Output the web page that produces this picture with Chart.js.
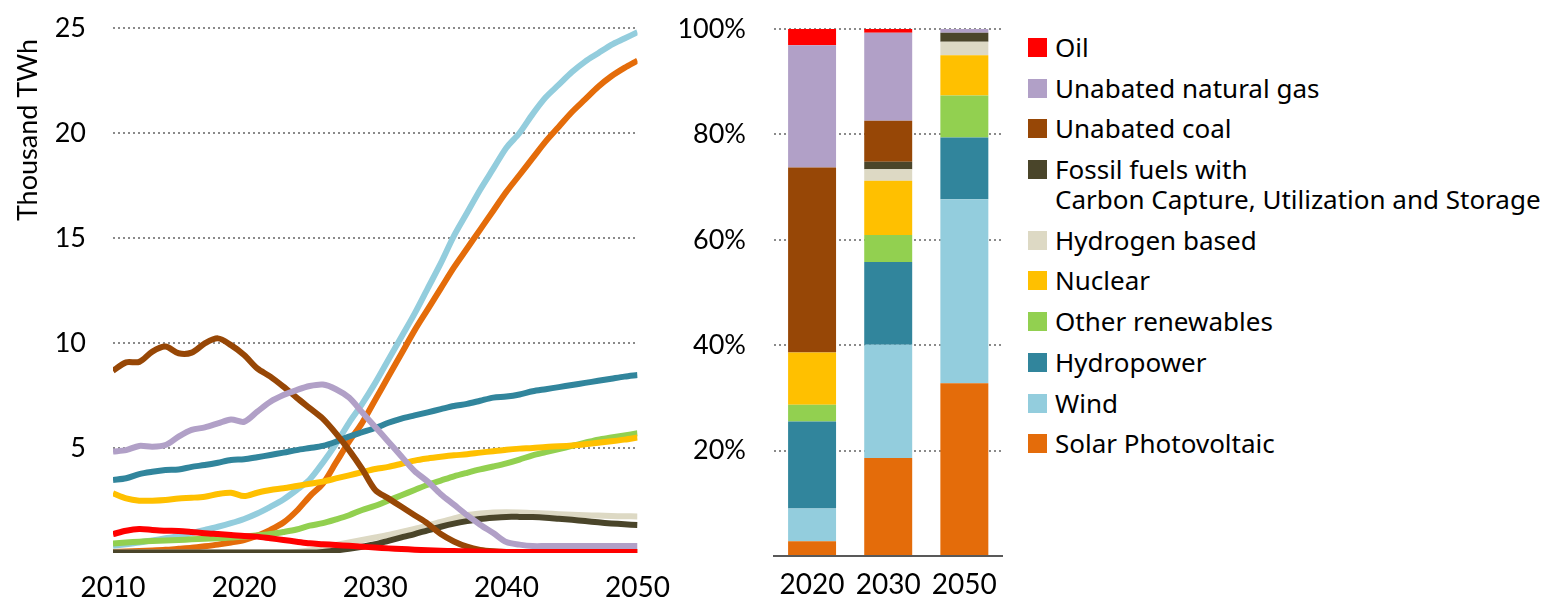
<!DOCTYPE html>
<html>
<head>
<meta charset="utf-8">
<script src="https://cdn.jsdelivr.net/npm/chart.js@4.4.1/dist/chart.umd.min.js"></script>
<style>
  html, body { margin: 0; padding: 0; background: #fff; }
  #wrap { position: relative; width: 1553px; height: 602px; overflow: hidden; }
  #lineBox { position: absolute; left: 0; top: 0; width: 680px; height: 602px; }
  #barBox { position: absolute; left: 680px; top: 0; width: 330px; height: 602px; }
  canvas { display: block; }
  #legend { position: absolute; left: 1028px; top: 32px; font-family: "Noto Sans", sans-serif; font-size: 26px; color: #000; }
  .item { display: flex; align-items: flex-start; margin-bottom: 10.7px; line-height: 30px; }
  .sw { width: 19px; height: 19px; margin-top: 6px; margin-right: 8px; flex: none; }
</style>
</head>
<body>
<div id="wrap">
  <div id="lineBox"><canvas id="lineChart" width="680" height="602"></canvas></div>
  <div id="barBox"><canvas id="barChart" width="330" height="602"></canvas></div>
  <div id="legend"></div>
</div>
<script>
// ---- data ----
const years = [2010, 2011, 2012, 2013, 2014, 2015, 2016, 2017, 2018, 2019, 2020, 2021, 2022, 2023, 2024, 2025,
  2026, 2027, 2028, 2029, 2030, 2031, 2032, 2033, 2034, 2035, 2036, 2037, 2038, 2039, 2040,
  2041, 2042, 2043, 2044, 2045, 2046, 2047, 2048, 2049, 2050];

const oil = [0.9, 1.06, 1.14, 1.1, 1.06, 1.05, 1.0, 0.94, 0.9, 0.86, 0.81, 0.78, 0.7, 0.62, 0.54, 0.46,
  0.42, 0.38, 0.34, 0.3, 0.26, 0.22, 0.19, 0.16, 0.13, 0.11, 0.09, 0.08, 0.07, 0.06,
  0.05, 0.05, 0.05, 0.05, 0.05, 0.05, 0.05, 0.05, 0.05, 0.05, 0.05];
const gas = [4.83, 4.9, 5.1, 5.06, 5.14, 5.54, 5.86, 5.98, 6.17, 6.36, 6.25, 6.73, 7.2, 7.52, 7.76, 7.95,
  8.02, 7.8, 7.4, 6.7, 6.0, 5.3, 4.6, 3.9, 3.4, 2.8, 2.3, 1.8, 1.35, 0.95, 0.52, 0.4,
  0.33, 0.33, 0.33, 0.33, 0.33, 0.33, 0.33, 0.33, 0.33];
const coal = [8.68, 9.08, 9.1, 9.59, 9.83, 9.51, 9.54, 9.98, 10.22, 9.9, 9.43, 8.79, 8.4, 7.92, 7.4, 6.9,
  6.4, 5.7, 4.9, 4.0, 3.0, 2.6, 2.2, 1.8, 1.4, 0.9, 0.55, 0.3, 0.15, 0.08, 0.05,
  0.05, 0.05, 0.05, 0.05, 0.05, 0.05, 0.05, 0.05, 0.05, 0.05];
const ccus = [0.02, 0.02, 0.02, 0.02, 0.02, 0.02, 0.02, 0.02, 0.02, 0.02, 0.02, 0.02, 0.02, 0.02, 0.02, 0.02,
  0.05, 0.12, 0.2, 0.3, 0.42, 0.58, 0.74, 0.9, 1.08, 1.25, 1.4, 1.52, 1.62, 1.68, 1.72,
  1.72, 1.71, 1.68, 1.63, 1.58, 1.52, 1.46, 1.41, 1.37, 1.33];
const hydrogen = [0.02, 0.02, 0.02, 0.02, 0.02, 0.02, 0.02, 0.02, 0.02, 0.02, 0.02, 0.02, 0.02, 0.02,
  0.05, 0.12, 0.25, 0.38, 0.5, 0.62, 0.74, 0.86, 1.0, 1.15, 1.3, 1.48, 1.65, 1.8, 1.88, 1.93, 1.94,
  1.93, 1.9, 1.88, 1.85, 1.82, 1.8, 1.78, 1.76, 1.75, 1.74];
const nuclear = [2.84, 2.6, 2.49, 2.49, 2.52, 2.6, 2.63, 2.68, 2.81, 2.87, 2.71, 2.87, 3.0, 3.08, 3.19, 3.3,
  3.4, 3.55, 3.7, 3.85, 4.0, 4.1, 4.25, 4.4, 4.5, 4.58, 4.65, 4.7, 4.78, 4.85, 4.92,
  4.97, 5.0, 5.05, 5.08, 5.12, 5.18, 5.25, 5.32, 5.4, 5.5];
const otherRen = [0.45, 0.5, 0.54, 0.57, 0.6, 0.62, 0.65, 0.68, 0.7, 0.74, 0.78, 0.84, 0.9, 1.0, 1.12,
  1.3, 1.42, 1.6, 1.8, 2.05, 2.25, 2.5, 2.75, 3.0, 3.25, 3.45, 3.65, 3.82, 3.98, 4.12, 4.27,
  4.45, 4.65, 4.8, 4.95, 5.1, 5.25, 5.4, 5.5, 5.6, 5.7];
const hydro = [3.48, 3.56, 3.76, 3.87, 3.95, 3.98, 4.1, 4.19, 4.3, 4.43, 4.46, 4.56, 4.67, 4.78, 4.9, 5.0,
  5.1, 5.3, 5.55, 5.75, 5.95, 6.2, 6.4, 6.55, 6.7, 6.85, 7.0, 7.1, 7.25, 7.4, 7.45,
  7.55, 7.7, 7.8, 7.9, 8.0, 8.1, 8.2, 8.3, 8.4, 8.48];
const wind = [0.35, 0.42, 0.5, 0.6, 0.7, 0.8, 0.95, 1.1, 1.25, 1.42, 1.62, 1.88, 2.2, 2.55, 3.0,
  3.5, 4.3, 5.2, 6.2, 7.1, 8.1, 9.2, 10.3, 11.4, 12.6, 13.8, 15.1, 16.2, 17.3, 18.3, 19.3,
  20.0, 20.9, 21.7, 22.3, 22.9, 23.4, 23.8, 24.2, 24.5, 24.8];
const solar = [0.05, 0.07, 0.1, 0.12, 0.15, 0.2, 0.25, 0.32, 0.4, 0.5, 0.62, 0.82, 1.1, 1.45, 2.0,
  2.7, 3.3, 4.3, 5.3, 6.2, 7.3, 8.4, 9.5, 10.6, 11.6, 12.6, 13.6, 14.5, 15.4, 16.3, 17.2,
  18.0, 18.8, 19.6, 20.3, 21.0, 21.6, 22.2, 22.7, 23.1, 23.45];

// share of generation, % (bars 2020, 2030, 2050)
const barYears = ['2020', '2030', '2050'];
const shareSolar = [2.8, 18.6, 32.8];
const shareWind = [6.2, 21.5, 34.9];
const shareHydro = [16.5, 15.7, 11.7];
const shareOther = [3.2, 5.1, 8.0];
const shareNuclear = [9.9, 10.3, 7.6];
const shareHydrogen = [0, 2.2, 2.6];
const shareCcus = [0, 1.4, 1.7];
const shareCoal = [35.1, 7.8, 0];
const shareGas = [23.2, 16.7, 0.7];
const shareOil = [3.1, 0.7, 0];

const yTitle = 'Thousand TWh';

// legend order (top to bottom)
const legendNames = ['Oil', 'Unabated natural gas', 'Unabated coal',
  'Fossil fuels with\nCarbon Capture, Utilization and Storage', 'Hydrogen based', 'Nuclear',
  'Other renewables', 'Hydropower', 'Wind', 'Solar Photovoltaic'];
const colors = ['#FF0000', '#B1A0C7', '#974706', '#4A452A', '#DDD9C4', '#FFC000',
  '#92D050', '#31859C', '#93CDDD', '#E46C0A'];

// ---- line chart ----
const lineSeries = [oil, gas, coal, ccus, hydrogen, nuclear, otherRen, hydro, wind, solar];
const axisFont = 'Lato';
const gridGrey = '#8a8a8a';

const yTitlePlugin = {
  id: 'yTitle',
  afterDraw: (chart) => {
    const { ctx } = chart;
    ctx.save();
    ctx.translate(28, 130);
    ctx.rotate(-Math.PI / 2);
    ctx.font = '27px Lato';
    ctx.fillStyle = '#000';
    ctx.textAlign = 'center';
    ctx.textBaseline = 'middle';
    ctx.fillText(yTitle, 0, 0);
    ctx.restore();
  }
};

new Chart(document.getElementById('lineChart'), {
  type: 'line',
  data: {
    datasets: lineSeries.map((s, i) => ({
      label: legendNames[i],
      data: s.map((v, j) => ({ x: years[j], y: v })),
      borderColor: colors[i],
      borderWidth: 6,
      pointRadius: 0,
      pointHoverRadius: 0,
      tension: 0.3,
      fill: false
    }))
  },
  options: {
    responsive: false, animation: false,
    layout: { autoPadding: false, padding: { top: 28, right: 34, left: 0, bottom: 0 } },
    scales: {
      x: {
        type: 'linear', min: 2010, max: 2050,
        grid: { display: false },
        border: { display: false },
        ticks: { stepSize: 10, padding: 10, color: '#000', font: { family: axisFont, size: 28 },
          callback: (v) => String(v) },
        afterFit: (s) => { s.height = 49; }
      },
      y: {
        min: 0, max: 25,
        border: { display: false, dash: [2, 3] },
        grid: { drawTicks: false, lineWidth: 2,
          color: (c) => c.tick && c.tick.value === 0 ? 'rgba(0,0,0,0)' : gridGrey },
        ticks: { stepSize: 5, padding: 27, color: '#000', font: { family: axisFont, size: 27 },
          callback: (v) => v === 0 ? '' : v },
        afterFit: (s) => { s.width = 113; s.paddingTop = 0; s.paddingBottom = 0; }
      }
    },
    plugins: { legend: { display: false }, tooltip: { enabled: false } }
  },
  plugins: [yTitlePlugin]
});

// ---- stacked share bars ----
const barSeries = [shareSolar, shareWind, shareHydro, shareOther, shareNuclear,
  shareHydrogen, shareCcus, shareCoal, shareGas, shareOil];
const barColors = colors.slice().reverse();
const barNames = legendNames.slice().reverse();

new Chart(document.getElementById('barChart'), {
  type: 'bar',
  data: {
    labels: barYears,
    datasets: barSeries.map((s, i) => ({
      label: barNames[i],
      data: s,
      backgroundColor: barColors[i],
      borderWidth: 0,
      barPercentage: 0.63,
      categoryPercentage: 1.0
    }))
  },
  options: {
    responsive: false, animation: false,
    layout: { autoPadding: false, padding: { top: 29, right: 7, left: 0, bottom: 0 } },
    scales: {
      x: {
        stacked: true,
        grid: { display: false, drawTicks: false },
        border: { display: true, color: '#595959', width: 2 },
        ticks: { padding: 12, color: '#000', font: { family: axisFont, size: 28 } },
        afterFit: (s) => { s.height = 46; }
      },
      y: {
        stacked: true, min: 0, max: 100,
        border: { display: false, dash: [2, 3] },
        grid: { drawTicks: false, lineWidth: 2,
          color: (c) => c.tick && c.tick.value === 0 ? 'rgba(0,0,0,0)' : gridGrey },
        ticks: { stepSize: 20, padding: 28, color: '#000', font: { family: axisFont, size: 27 },
          callback: (v) => v === 0 ? '' : v + '%' },
        afterFit: (s) => { s.width = 94; s.paddingTop = 0; s.paddingBottom = 0; }
      }
    },
    plugins: { legend: { display: false }, tooltip: { enabled: false } }
  }
});

// ---- legend ----
const legendEl = document.getElementById('legend');
legendNames.forEach((name, i) => {
  const item = document.createElement('div');
  item.className = 'item';
  const sw = document.createElement('div');
  sw.className = 'sw';
  sw.style.background = colors[i];
  const txt = document.createElement('div');
  txt.style.whiteSpace = 'pre';
  txt.textContent = name;
  item.appendChild(sw);
  item.appendChild(txt);
  legendEl.appendChild(item);
});
</script>
</body>
</html>
